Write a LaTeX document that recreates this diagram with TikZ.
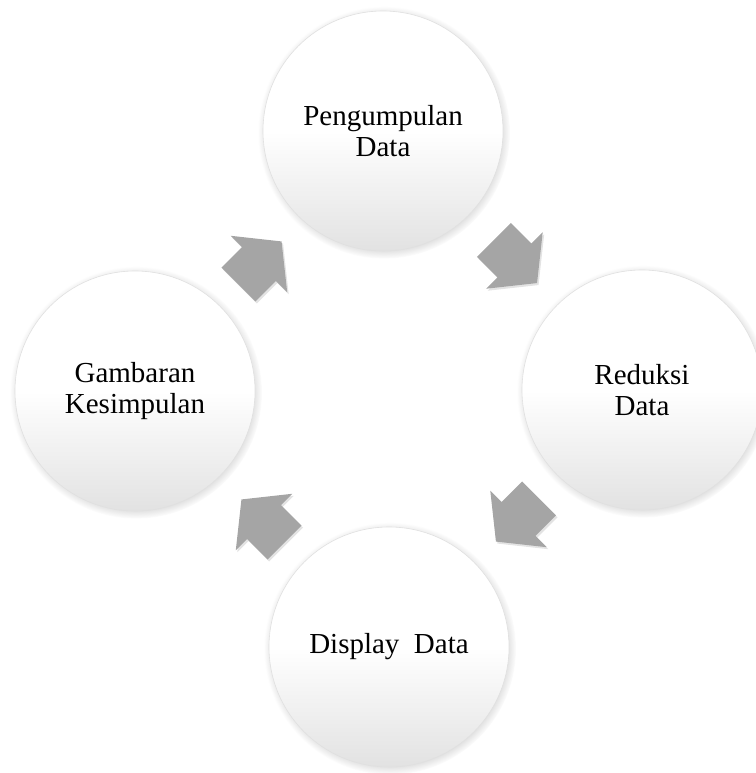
\documentclass[tikz,border=0pt]{standalone}
\usepackage{fontspec}
\setmainfont{Liberation Serif}
\usetikzlibrary{shadows,calc,fadings}
\definecolor{arrowgray}{RGB}{165,165,165}
\definecolor{discbottom}{RGB}{226,226,226}
\begin{document}
\begin{tikzpicture}[x=1pt,y=-1pt,
  stage/.style={circle, minimum size=240pt, inner sep=0pt, align=center,
    font=\fontsize{29}{31.5}\selectfont,
    draw=black!12, line width=0.6pt,
    top color=white, bottom color=discbottom, middle color=white,
    circular drop shadow={shadow scale=1.05, shadow xshift=1pt,
      shadow yshift=-1.5pt, opacity=0.5}},
  flow/.style={fill=arrowgray,
    drop shadow={shadow xshift=1.5pt, shadow yshift=-2pt, opacity=0.22}}]
\useasboundingbox (0,0) rectangle (755,773);

% the four stages of the cycle
\node[stage] (kumpul) at (383,131) {Pengumpulan\\Data};
\node[stage] (reduksi) at (642,390) {Reduksi\\Data};
\node[stage] (display) at (389,647) {Display~ Data};
\node[stage] (simpul) at (135,391) {Gambaran\\Kesimpulan};

% anchor points of the block arrows, between consecutive stages
\coordinate (m1) at ($(kumpul)!0.5!(reduksi)+(3,1)$);
\coordinate (m2) at ($(reduksi)!0.5!(display)+(2,1.5)$);
\coordinate (m3) at ($(display)!0.5!(simpul)+(1,2)$);
\coordinate (m4) at ($(simpul)!0.5!(kumpul)+(1,2)$);

% block arrow: shaft 48 wide, head 80 wide, 61 long, pointing along +x
\foreach \m/\ang in {m1/-45, m2/-135, m3/135, m4/45}{
  \begin{scope}[shift={(\m)}, rotate=\ang]
    \path[flow] (-30.5,-24) -- (-1.5,-24) -- (-1.5,-40) -- (30.5,0)
      -- (-1.5,40) -- (-1.5,24) -- (-30.5,24) -- cycle;
  \end{scope}
}
\end{tikzpicture}
\end{document}
